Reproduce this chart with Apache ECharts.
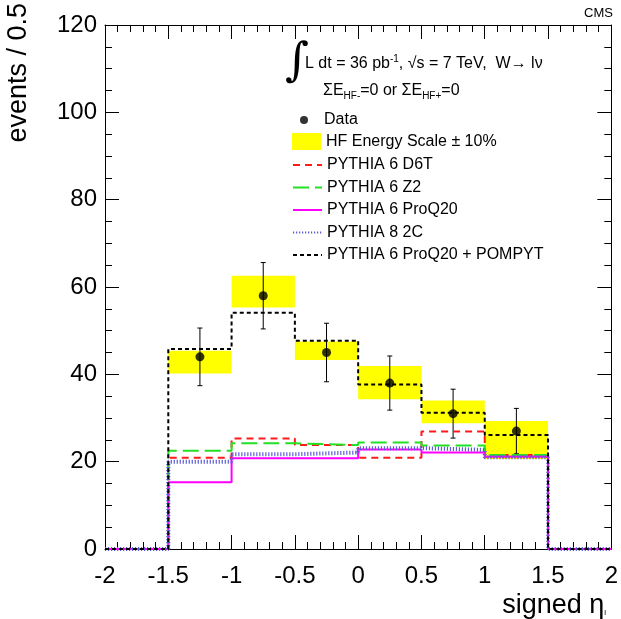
<!DOCTYPE html>
<html><head><meta charset="utf-8">
<script src="https://cdn.jsdelivr.net/npm/echarts@6/dist/echarts.min.js"></script>
<style>html,body{margin:0;padding:0;background:#fff}#c{width:621px;height:619px}</style>
</head><body><div id="c"></div>
<script>
// ---- data ----
const binLow = [-1.5, -1, -0.5, 0, 0.5, 1];
const binHigh = [-1, -0.5, 0, 0.5, 1, 1.5];
const binCenters = [-1.25, -0.75, -0.25, 0.25, 0.75, 1.25];
const dataValues = [44, 58, 45, 38, 31, 27];
const dataErrors = [6.6, 7.6, 6.7, 6.2, 5.6, 5.2];
const bandLow = [40.2, 55.3, 43.3, 34.3, 28.8, 20.6];
const bandHigh = [45.4, 62.6, 47.5, 41.9, 34.0, 29.3];
const d6t = [20.9, 25.3, 23.8, 20.9, 26.9, 21.5];
const z2 = [22.5, 24.2, 23.8, 24.4, 23.7, 21.5];
const proq20 = [15.3, 20.8, 20.8, 22.8, 22.1, 21.1];
const py8_2c = [20.0, 21.7, 22.1, 23.1, 22.7, 21.0];
const pompyt = [45.8, 54.1, 47.7, 37.7, 31.2, 26.1];
const xMin = -2, xMax = 2, xInterval = 0.5;
const yMin = 0, yMax = 120, yInterval = 20;

const FONT = 'Liberation Sans, Arial, sans-serif';

function stepPoints(vals) {
  const pts = [[xMin, 0]];
  for (let i = 0; i < vals.length; i++) pts.push([binLow[i], vals[i]]);
  pts.push([binHigh[binHigh.length - 1], 0]);
  pts.push([xMax, 0]);
  return pts;
}
function lineSeries(name, vals, color, width, type) {
  return {
    name, type: 'line', step: 'end', symbol: 'none', data: stepPoints(vals),
    lineStyle: { color, width, type }, itemStyle: { color }, animation: false, silent: true
  };
}

const chart = echarts.init(document.getElementById('c'), null, { renderer: 'canvas' });

const axisCommon = {
  type: 'value', min: xMin, max: xMax, interval: xInterval,
  axisLine: { show: true, onZero: false, lineStyle: { color: '#000', width: 1 } },
  splitLine: { show: false },
  axisTick: { show: true, inside: true, length: 14, lineStyle: { color: '#000' } },
  minorTick: { show: true, splitNumber: 5, length: 7, lineStyle: { color: '#000' } }
};
const yCommon = {
  type: 'value', min: yMin, max: yMax, interval: yInterval,
  axisLine: { show: true, onZero: false, lineStyle: { color: '#000', width: 1 } },
  splitLine: { show: false },
  axisTick: { show: true, inside: true, length: 14, lineStyle: { color: '#000' } },
  minorTick: { show: true, splitNumber: 4, length: 7, lineStyle: { color: '#000' } }
};

const option = {
  backgroundColor: '#fff',
  animation: false,
  grid: { left: 105, right: 8, top: 25, bottom: 70, containLabel: false },
  xAxis: [
    Object.assign({}, axisCommon, { position: 'bottom',
      axisLabel: { color: '#000', fontSize: 24, fontFamily: FONT, margin: 15, showMinLabel: true, showMaxLabel: true } }),
    Object.assign({}, axisCommon, { position: 'top', axisLabel: { show: false } })
  ],
  yAxis: [
    Object.assign({}, yCommon, { position: 'left',
      axisLabel: { color: '#000', fontSize: 24, fontFamily: FONT, margin: 8 } }),
    Object.assign({}, yCommon, { position: 'right', axisLabel: { show: false } })
  ],
  legend: [
    { data: [{ name: 'Data', icon: 'circle' }], orient: 'vertical', left: 295, top: 107,
      itemWidth: 30, itemHeight: 8, selectedMode: false,
      textStyle: { fontSize: 16, color: '#000', fontFamily: FONT } },
    { data: [{ name: 'HF Energy Scale ± 10%', icon: 'rect' }], orient: 'vertical', left: 287, top: 128,
      itemWidth: 29, itemHeight: 17, selectedMode: false,
      textStyle: { fontSize: 16, color: '#000', fontFamily: FONT } },
    { data: ['PYTHIA 6 D6T', 'PYTHIA 6 Z2', 'PYTHIA 6 ProQ20', 'PYTHIA 8 2C', 'PYTHIA 6 ProQ20 + POMPYT'],
      orient: 'vertical', left: 287, top: 152, itemWidth: 29, itemHeight: 14, itemGap: 6.5,
      itemStyle: { opacity: 0 },
      selectedMode: false, textStyle: { fontSize: 16, color: '#000', fontFamily: FONT } }
  ],
  graphic: [
    { type: 'text', right: 8, top: 7, style: { text: 'CMS', fontSize: 13, fontFamily: FONT, fill: '#000' } },
    { type: 'text', x: 19, y: 3, rotation: Math.PI / 2,
      style: { text: 'events / 0.5', fontSize: 27, fontFamily: FONT, fill: '#000', align: 'right', verticalAlign: 'middle' } },
    { type: 'text', x: 606, y: 606,
      style: { text: 'signed η{s|l}', fontSize: 27, fontFamily: FONT, fill: '#000', align: 'right', verticalAlign: 'middle',
        rich: { s: { fontSize: 8, fontFamily: FONT, padding: [14, 0, 0, 0] } } } },
    { type: 'text', x: 285, y: 63,
      style: { text: '∫', fontSize: 46, fontFamily: 'DejaVu Serif, serif', fill: '#000', align: 'left', verticalAlign: 'middle' } },
    { type: 'text', x: 305, y: 64,
      style: { text: 'L dt = 36 pb{sup|-1}, √s = 7 TeV,  W→ lν', fontSize: 16, fontFamily: FONT, fill: '#000',
        align: 'left', verticalAlign: 'middle',
        rich: { sup: { fontSize: 10, fontFamily: FONT, padding: [0, 0, 10, 0] } } } },
    { type: 'text', x: 323, y: 91,
      style: { text: 'ΣE{sub|HF-}=0 or ΣE{sub|HF+}=0', fontSize: 16, fontFamily: FONT, fill: '#000',
        align: 'left', verticalAlign: 'middle',
        rich: { sub: { fontSize: 10, fontFamily: FONT, padding: [10, 0, 0, 0] } } } }
  ],
  series: [
    {
      name: 'HF Energy Scale ± 10%', type: 'custom', silent: true,
      itemStyle: { color: '#ffff00' },
      data: binLow.map((lo, i) => [lo, binHigh[i], bandLow[i], bandHigh[i]]),
      encode: { x: [0, 1], y: [2, 3] },
      renderItem: function (params, api) {
        const p1 = api.coord([api.value(0), api.value(3)]);
        const p2 = api.coord([api.value(1), api.value(2)]);
        return { type: 'rect', shape: { x: p1[0], y: p1[1], width: p2[0] - p1[0], height: p2[1] - p1[1] },
          style: { fill: '#ffff00' } };
      }
    },
    lineSeries('PYTHIA 6 D6T', d6t, '#ff1a1a', 2, [7, 5]),
    lineSeries('PYTHIA 6 Z2', z2, '#22e022', 2, [16, 6]),
    lineSeries('PYTHIA 6 ProQ20', proq20, '#ff00ff', 2, 'solid'),
    lineSeries('PYTHIA 8 2C', py8_2c, '#5c5cd8', 4, [1.2, 1.8]),
    lineSeries('PYTHIA 6 ProQ20 + POMPYT', pompyt, '#000000', 2, [4, 3]),
    {
      name: 'errors', type: 'custom', silent: true,
      data: binCenters.map((x, i) => [x, dataValues[i] - dataErrors[i], dataValues[i] + dataErrors[i]]),
      encode: { x: 0, y: [1, 2] },
      renderItem: function (params, api) {
        const lo = api.coord([api.value(0), api.value(1)]);
        const hi = api.coord([api.value(0), api.value(2)]);
        const st = { stroke: '#000', lineWidth: 1 };
        return { type: 'group', children: [
          { type: 'line', shape: { x1: lo[0], y1: lo[1], x2: hi[0], y2: hi[1] }, style: st },
          { type: 'line', shape: { x1: lo[0] - 2.5, y1: lo[1], x2: lo[0] + 2.5, y2: lo[1] }, style: st },
          { type: 'line', shape: { x1: hi[0] - 2.5, y1: hi[1], x2: hi[0] + 2.5, y2: hi[1] }, style: st }
        ] };
      }
    },
    {
      name: 'Data', type: 'scatter', symbol: 'circle', symbolSize: 9, silent: true,
      itemStyle: { color: '#000' },
      data: binCenters.map((x, i) => [x, dataValues[i]])
    }
  ]
};
chart.setOption(option);
</script>
</body></html>
